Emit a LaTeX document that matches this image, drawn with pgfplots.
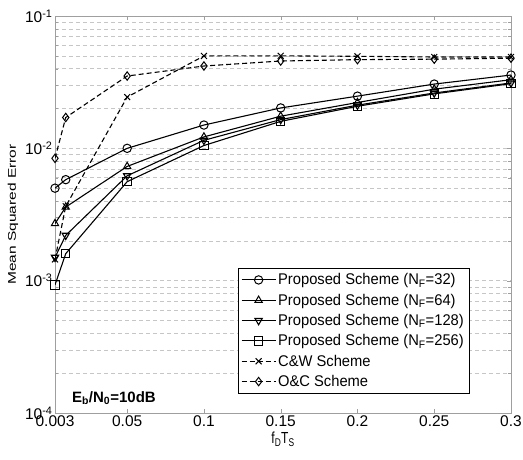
\documentclass[border=0pt]{standalone}
\usepackage{fontspec}
\setmainfont{Liberation Sans}
\newfontfamily\narrowfont{Liberation Sans}[FakeStretch=0.95]
\usepackage{graphicx}
\usepackage{pgfplots}
\pgfplotsset{compat=1.18}
\begin{document}
\begin{tikzpicture}[x=1pt,y=1pt]
\useasboundingbox (0,0) rectangle (523,459);
\begin{axis}[
    at={(55pt,46pt)}, anchor=south west,
    scale only axis, width=456pt, height=397pt,
    ymode=log, xmin=0.003, xmax=0.3, ymin=1e-4, ymax=1e-1,
    xtick={0.003,0.05,0.1,0.15,0.2,0.25,0.3},
    xticklabels={0.003,0.05,0.1,0.15,0.2,0.25,0.3},
    ytick={1e-4,1e-3,1e-2,1e-1},
    yticklabels={10\textsuperscript{-4},10\textsuperscript{-3},10\textsuperscript{-2},10\textsuperscript{-1}},
    ymajorgrids, yminorgrids,
    major grid style={gray!45, dash pattern=on 4pt off 3pt},
    minor grid style={gray!45, dash pattern=on 4pt off 3pt},
    axis line style={gray!75},
    tick style={gray!75},
    tick align=inside,
    tick label style={font=\fontsize{15.5}{17}\selectfont},
    xticklabel style={yshift=1pt},
    yticklabel style={xshift=1pt},
    /pgf/number format/assume math mode=true,
    xlabel={\scalebox{0.75}[1]{\fontsize{16}{18}\selectfont f\textsubscript{D}T\textsubscript{S}}},
    ylabel={\scalebox{1}[0.72]{\fontsize{15.5}{18}\selectfont Mean Squared Error}},
    xlabel style={yshift=1pt},
    legend style={at={(0.401,0.05)}, anchor=south west, draw=black,
        font=\narrowfont\fontsize{15.5}{17}\selectfont, row sep=3.6pt,
        inner xsep=3pt, inner ysep=3pt},
    legend cell align=left,
    legend image code/.code={
        \draw[mark repeat=2, mark phase=2, #1]
            plot coordinates {(0pt,0pt) (17pt,0pt) (34pt,0pt)};},
    every axis plot/.append style={black, line width=1.1pt, mark size=4.2pt,
        mark options={solid, fill=white, line width=1pt}},
]
\addplot[mark=o] coordinates {
    (0.003,0.0050) (0.01,0.0058) (0.05,0.0100) (0.1,0.0150)
    (0.15,0.0202) (0.2,0.0248) (0.25,0.0306) (0.3,0.0358)
};
\addplot[mark=triangle] coordinates {
    (0.003,0.0027) (0.01,0.0036) (0.05,0.0073) (0.1,0.0122)
    (0.15,0.0175) (0.2,0.0222) (0.25,0.0280) (0.3,0.0330)
};
\addplot[mark=triangle, mark options={rotate=180}] coordinates {
    (0.003,0.0015) (0.01,0.0022) (0.05,0.0062) (0.1,0.0115)
    (0.15,0.0165) (0.2,0.0212) (0.25,0.0262) (0.3,0.0312)
};
\addplot[mark=square] coordinates {
    (0.003,0.00093) (0.01,0.0016) (0.05,0.0056) (0.1,0.0105)
    (0.15,0.0160) (0.2,0.0208) (0.25,0.0258) (0.3,0.0308)
};
\addplot[dash pattern=on 5pt off 3pt, mark=x] coordinates {
    (0.003,0.00145) (0.01,0.00365) (0.05,0.0244) (0.1,0.0499)
    (0.15,0.0500) (0.2,0.0496) (0.25,0.0490) (0.3,0.0490)
};
\addplot[dash pattern=on 5pt off 3pt, mark=diamond] coordinates {
    (0.003,0.0084) (0.01,0.0171) (0.05,0.0352) (0.1,0.0419)
    (0.15,0.0457) (0.2,0.0468) (0.25,0.0472) (0.3,0.0480)
};
\legend{Proposed Scheme (N\textsubscript{F}=32),
        Proposed Scheme (N\textsubscript{F}=64),
        Proposed Scheme (N\textsubscript{F}=128),
        Proposed Scheme (N\textsubscript{F}=256),
        C\&W Scheme, O\&C Scheme}
\node[anchor=south west, inner sep=0pt, font=\bfseries\fontsize{15}{17}\selectfont]
    at (rel axis cs:0.037,0.02) {E\textsubscript{b}/N\textsubscript{0}=10dB};
\end{axis}
\end{tikzpicture}
\end{document}
